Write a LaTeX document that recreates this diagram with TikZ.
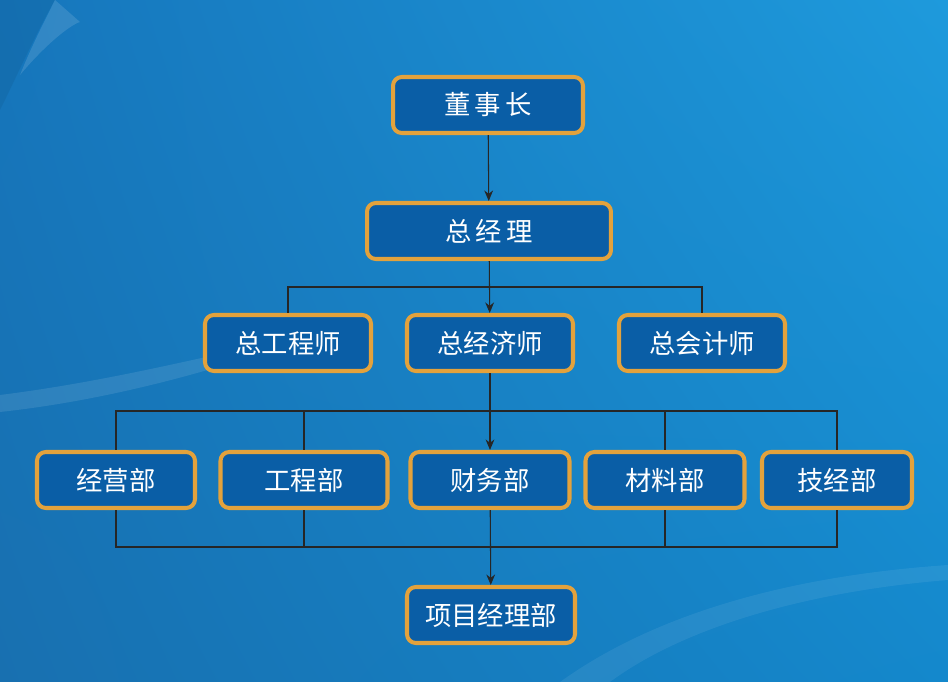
\documentclass[tikz,border=0pt]{standalone}
\usepackage{fontspec}
\setmainfont{Noto Sans CJK SC}
\usepackage{xcolor}
\usetikzlibrary{arrows.meta, calc, backgrounds, shadings}

\definecolor{bgll}{HTML}{1870B0}
\definecolor{bgul}{HTML}{1676BC}
\definecolor{bgur}{HTML}{1E9ADC}
\definecolor{bglr}{HTML}{1488CC}
\definecolor{boxfill}{HTML}{0A5EA6}
\definecolor{boxedge}{HTML}{E3A23C}

\begin{document}
\begin{tikzpicture}[
    x=0.02cm, y=-0.02cm,
    post/.style={rectangle, draw=boxedge, fill=boxfill, line width=2.3pt, rounded corners=5pt, minimum height=1.12cm, align=center, text=white, font=\fontsize{15}{18}\selectfont},
    link/.style={draw=black!85, line width=0.6pt},
    arrow/.style={link, -{Stealth[length=6pt, width=5pt]}}
]

% Background
\shade[lower left=bgll, upper left=bgul, upper right=bgur, lower right=bglr] (0,682) rectangle (948,0);
\fill[bgul!80!black, opacity=0.3] (0,0) -- (55,0) .. controls (35,35) and (15,80) .. (0,110) -- cycle;
\fill[white, opacity=0.12] (55,0) .. controls (40,30) and (30,50) .. (20,75) .. controls (45,45) and (70,25) .. (80,22) -- cycle;
\fill[white, opacity=0.10] (0,395) .. controls (120,380) and (230,350) .. (330,330) .. controls (220,370) and (110,400) .. (0,412) -- cycle;
\fill[white, opacity=0.07] (560,682) .. controls (660,610) and (800,575) .. (948,565) -- (948,580) .. controls (800,592) and (680,630) .. (610,682) -- cycle;

% Top: Chairman and General Manager
\node[post, minimum width=3.8cm] (dsz) at (488,105) {董\,事\,长};
\node[post, minimum width=4.88cm] (zjl) at (489,231) {总\,经\,理};

% Middle: Chief officers
\node[post, minimum width=3.32cm] (zgcs) at (288,343) {总工程师};
\node[post, minimum width=3.32cm] (zjjs) at (490,343) {总经济师};
\node[post, minimum width=3.32cm] (zkjs) at (702,343) {总会计师};

% Departments
\node[post, minimum width=3.16cm] (jyb) at (116,480) {经营部};
\node[post, minimum width=3.34cm] (gcb) at (304,480) {工程部};
\node[post, minimum width=3.18cm] (cwb) at (490,480) {财务部};
\node[post, minimum width=3.18cm] (clb) at (665,480) {材料部};
\node[post, minimum width=3.0cm] (jjb) at (837,480) {技经部};

% Bottom: Project department
\node[post, minimum width=3.36cm] (xmb) at (491,615) {项目经理部};

% Bus lines
\coordinate (busA) at (490,287);
\coordinate (busB) at (490,411);
\coordinate (busC) at (490,547);

% Connectors
\draw[arrow] (dsz) -- (zjl);
\draw[arrow] (zjl) -- (zjjs);
\draw[link] (zgcs.north) |- (busA) -| (zkjs.north);

\draw[arrow] (zjjs) -- (cwb);
\draw[link] (jyb.north) |- (busB) -| (jjb.north);
\draw[link] (gcb.north) -- (gcb.north |- busB);
\draw[link] (clb.north) -- (clb.north |- busB);

\draw[link] (jyb.south) |- (busC) -| (jjb.south);
\draw[link] (gcb.south) -- (gcb.south |- busC);
\draw[link] (clb.south) -- (clb.south |- busC);
\draw[arrow] (cwb) -- (xmb);

\end{tikzpicture}
\end{document}
